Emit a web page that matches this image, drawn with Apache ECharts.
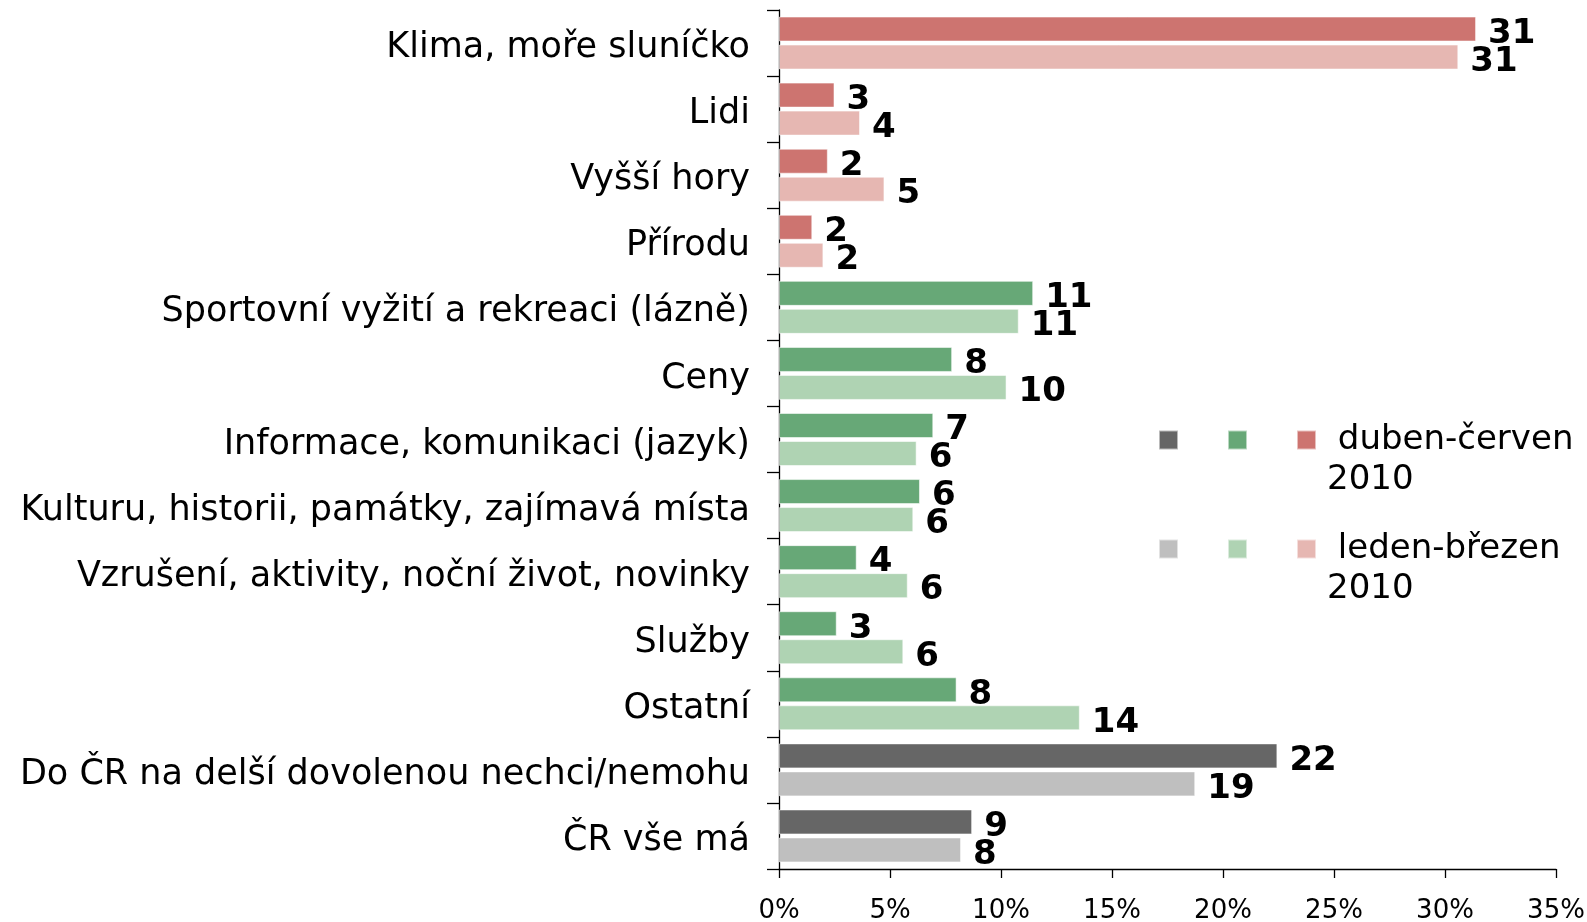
<!DOCTYPE html>
<html>
<head>
<meta charset="utf-8">
<script src="https://cdn.jsdelivr.net/npm/echarts@6/dist/echarts.min.js"></script>
<style>
  html, body { margin: 0; padding: 0; background: #fff; }
  #chart { width: 1587px; height: 922px; }
</style>
</head>
<body>
<div id="chart"></div>
<script>
// Reasons named by respondents, two survey periods of 2010 (% of answers)
const categories = [
  'Klima, moře sluníčko',
  'Lidi',
  'Vyšší hory',
  'Přírodu',
  'Sportovní vyžití a rekreaci (lázně)',
  'Ceny',
  'Informace, komunikaci (jazyk)',
  'Kulturu, historii, památky, zajímavá místa',
  'Vzrušení, aktivity, noční život, novinky',
  'Služby',
  'Ostatní',
  'Do ČR na delší dovolenou nechci/nemohu',
  'ČR vše má'
];
const dubenCerven = [31.4, 2.5, 2.2, 1.5, 11.45, 7.8, 6.95, 6.35, 3.5, 2.6, 8.0, 22.45, 8.7];
const ledenBrezen = [30.6, 3.65, 4.75, 2.0, 10.8, 10.25, 6.2, 6.05, 5.8, 5.6, 13.55, 18.75, 8.2];
// colour group of each category
const groups = ['red', 'red', 'red', 'red',
  'green', 'green', 'green', 'green', 'green', 'green', 'green',
  'gray', 'gray'];
const xTicks = { min: 0, max: 35, step: 5 };

const periodNames = ['duben-červen 2010', 'leden-březen 2010'];
const palette = {
  gray:  ['#666666', '#bfbfbf'],
  green: ['#67a877', '#afd3b3'],
  red:   ['#cd7470', '#e6b7b2']
};
const groupOrder = ['gray', 'green', 'red'];
const FONT = '"DejaVu Sans", Verdana, sans-serif';

function seriesName(period, group) {
  return group === 'red' ? periodNames[period] : periodNames[period] + '|' + group;
}

const series = [];
[dubenCerven, ledenBrezen].forEach((values, period) => {
  groupOrder.forEach(group => {
    series.push({
      name: seriesName(period, group),
      type: 'bar',
      stack: 'p' + period,
      barWidth: 25,
      barGap: '12%',
      itemStyle: { color: palette[group][period], borderColor: 'rgba(255,255,255,0.55)', borderWidth: 1 },
      label: {
        show: true,
        position: 'right',
        distance: 12,
        offset: [0, 5],
        color: '#000',
        fontFamily: FONT,
        fontWeight: 'bold',
        fontSize: 34,
        formatter: p => String(Math.round(p.value))
      },
      data: values.map((v, i) => groups[i] === group ? v : null)
    });
  });
});

// Legend row: three colour swatches, the period name beside the last one.
// A blank first line keeps the name's first line level with the swatches.
function legendFor(period, top) {
  return {
    orient: 'horizontal',
    left: 1153,
    top: top,
    width: 560,
    itemWidth: 19,
    itemHeight: 19,
    itemGap: 38,
    icon: 'rect',
    selectedMode: false,
    data: groupOrder.map(g => seriesName(period, g)),
    formatter: name => name.indexOf('|') >= 0 ? '' : '\n ' + name.replace(' 2010', '\n2010'),
    textStyle: {
      fontFamily: FONT,
      fontSize: 34,
      lineHeight: 40,
      color: '#000',
      padding: [0, 0, 0, 6]
    }
  };
}

const chart = echarts.init(document.getElementById('chart'), null, { renderer: 'canvas' });
chart.setOption({
  animation: false,
  backgroundColor: '#fff',
  grid: { left: 779, right: 31, top: 10, bottom: 53, containLabel: false, outerBoundsMode: 'none' },
  legend: [legendFor(0, 375), legendFor(1, 484)],
  xAxis: {
    type: 'value',
    min: xTicks.min,
    max: xTicks.max,
    interval: xTicks.step,
    axisLine: { show: true, lineStyle: { color: '#000', width: 1.3 } },
    axisTick: { show: true, length: 9, lineStyle: { color: '#000', width: 1.3 } },
    splitLine: { show: false },
    axisLabel: {
      color: '#000',
      fontFamily: FONT,
      fontSize: 26,
      margin: 29,
      formatter: v => v + '%'
    }
  },
  yAxis: {
    type: 'category',
    inverse: true,
    data: categories,
    axisLine: { show: true, lineStyle: { color: '#000', width: 1.3 } },
    axisTick: { show: true, length: 12, lineStyle: { color: '#000', width: 1.3 } },
    axisLabel: {
      color: '#000',
      margin: 29,
      // a thin blank line above each name lowers it slightly within its band
      formatter: v => '{s| }\n{t|' + v + '}',
      rich: {
        s: { fontSize: 2, lineHeight: 10 },
        t: { fontFamily: FONT, fontSize: 35, lineHeight: 40, color: '#000' }
      }
    }
  },
  series: series
});
</script>
</body>
</html>
